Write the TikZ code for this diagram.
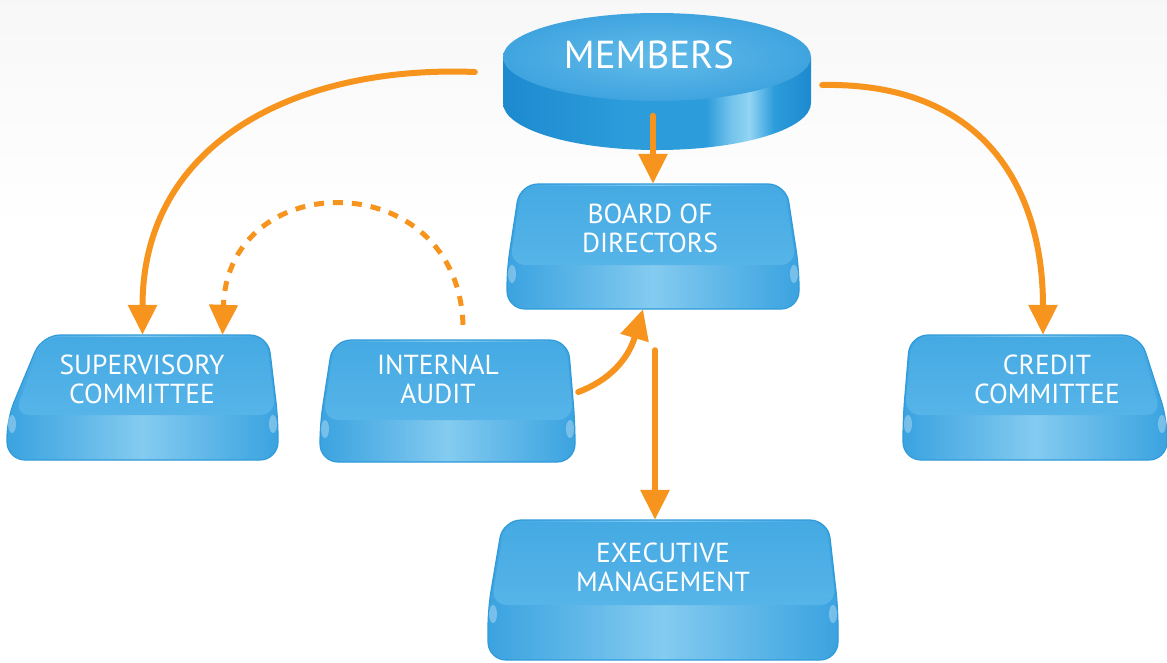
\documentclass[tikz,border=0pt]{standalone}
\usepackage{fontspec}
\setmainfont{PT Sans}
\usetikzlibrary{arrows.meta,calc}

\definecolor{flow}{HTML}{F7941D}
\definecolor{slabedge}{HTML}{3BA3E0}
\definecolor{slabmid}{HTML}{84CBF0}
\definecolor{slabline}{HTML}{2F9BDA}
\definecolor{facetop}{HTML}{45AAE3}
\definecolor{facebot}{HTML}{56B4E8}
\definecolor{diskdark}{HTML}{1D8ACF}
\definecolor{diskmid}{HTML}{2C9CDB}
\definecolor{diskhi}{HTML}{92D4F3}
\definecolor{diskin}{HTML}{62BBE9}
\definecolor{diskout}{HTML}{3FA4DF}

% side band of a slab: a little darker at both ends, lighter in the middle
\pgfdeclarehorizontalshading{slabside}{100bp}{%
  color(0bp)=(slabedge); color(25bp)=(slabedge); color(38bp)=(slabedge!50!slabmid);
  color(50bp)=(slabmid); color(62bp)=(slabedge!50!slabmid); color(75bp)=(slabedge);
  color(100bp)=(slabedge)}
% rim of the disk, with a bright glint on the right
\pgfdeclarehorizontalshading{diskside}{100bp}{%
  color(0bp)=(diskdark); color(25bp)=(diskdark); color(45bp)=(diskmid);
  color(58bp)=(diskmid); color(62bp)=(diskhi!70!diskmid); color(65bp)=(diskhi);
  color(69bp)=(diskmid); color(75bp)=(diskdark); color(100bp)=(diskdark)}

\tikzset{
  slabnode/.style={draw=none, inner sep=0pt, rectangle},
  labeltext/.style={text=white, align=center, inner sep=0pt,
    font=\fontsize{27.5}{29}\selectfont},
  bigtext/.style={text=white, align=center, inner sep=0pt,
    font=\fontsize{39}{42}\selectfont},
  flowline/.style={draw=flow, line width=6pt, line cap=round,
    -{Triangle[length=30pt,width=28pt]}},
  dashline/.style={draw=flow, line width=5pt, dash pattern=on 10pt off 9pt,
    -{Triangle[length=30pt,width=28pt]}},
}

% #1 outer left, #2 face left, #3 face right, #4 outer right,
% #5 top, #6 bottom of top face, #7 bottom
\newcommand\slab[7]{%
  \shadedraw[shading=slabside, draw=slabline, line width=1.2pt, rounded corners=18pt]
    (#2,#5) -- (#3,#5) -- (#4,{#6+4}) -- (#4,#7) -- (#1,#7) -- (#1,{#6+4}) -- cycle;
  \shade[top color=facetop, bottom color=facebot, rounded corners=16pt]
    ({#2+2},{#5+2}) -- ({#3-2},{#5+2}) -- ({#3+0.8*(#4-#3)},#6)
    -- ({#2-0.8*(#2-#1)},#6) -- cycle;
  \fill[white, opacity=0.3] ({#1+5},{#6+9}) ellipse (4pt and 9pt);
  \fill[white, opacity=0.3] ({#4-5},{#6+9}) ellipse (4pt and 9pt);
}

\begin{document}
\begin{tikzpicture}[x=1pt,y=-1pt]
\useasboundingbox (0,0) rectangle (1167,662);
\fill[white] (0,0) rectangle (1167,662);
\shade[top color=black!3, bottom color=white] (0,0) rectangle (1167,230);

% ---- MEMBERS disk ----
\shade[shading=diskside] (503,57) -- (503,103)
  arc[start angle=180, end angle=360, x radius=154pt, y radius=47pt] -- (811,57) -- cycle;
\shade[inner color=diskin, outer color=diskout] (657,57) ellipse (154pt and 44pt);
\node[slabnode, minimum width=308pt, minimum height=137pt] (members) at (657,82) {};

% ---- slabs ----
\slab{7}{42}{268}{278}{335}{415}{460}
\node[slabnode, minimum width=271pt, minimum height=125pt] (supervisory) at (142.5,397.5) {};

\slab{320}{333}{568}{575}{340}{420}{462}
\node[slabnode, minimum width=255pt, minimum height=122pt] (audit) at (447.5,401) {};

\slab{507}{520}{786}{799}{184}{265}{309}
\node[slabnode, minimum width=292pt, minimum height=125pt] (board) at (653,246.5) {};

\slab{903}{910}{1140}{1167}{335}{415}{460}
\node[slabnode, minimum width=264pt, minimum height=125pt] (credit) at (1035,397.5) {};

\slab{488}{503}{828}{838}{520}{605}{660}
\node[slabnode, minimum width=350pt, minimum height=140pt] (exec) at (663,590) {};

% ---- labels ----
\node[bigtext] (members-t) at (649,55) {MEMBERS};
\node[labeltext] (supervisory-t) at (142,379) {SUPERVISORY\\COMMITTEE};
\node[labeltext] (audit-t) at (438,379) {INTERNAL\\AUDIT};
\node[labeltext] (board-t) at (650,228) {BOARD OF\\DIRECTORS};
\node[labeltext] (credit-t) at (1047,379) {CREDIT\\COMMITTEE};
\node[labeltext] (exec-t) at (663,567) {EXECUTIVE\\MANAGEMENT};

% ---- connectors ----
\coordinate (m-left) at ([xshift=-28pt,yshift=10pt]members.west);
\coordinate (m-right) at ([xshift=11pt,yshift=-3pt]members.east);
\coordinate (m-down) at ($(members.south -| board.north)+(0,-35)$);
\coordinate (b-down) at ($(board.south)+(2,41)$);
\coordinate (a-out) at ([xshift=3pt,yshift=9pt]audit.east);
\coordinate (a-up) at ([xshift=15.5pt,yshift=15pt]audit.north);

\draw[flowline] (m-left) .. controls (300,65) and (142.5,140) .. (supervisory.north);
\draw[flowline] (m-right) .. controls (985,82) and (1043,190) .. ([xshift=8pt]credit.north);
\draw[flowline] (m-down) -- (board.north);
\draw[flowline] (b-down) -- (b-down |- exec.north);
\draw[flowline] (a-out) .. controls (608,381) and (628,360) .. ([xshift=-10pt]board.south);
\draw[dashline] (a-up) .. controls (458,165) and (228,165) .. ([xshift=80pt]supervisory.north);
\end{tikzpicture}
\end{document}
